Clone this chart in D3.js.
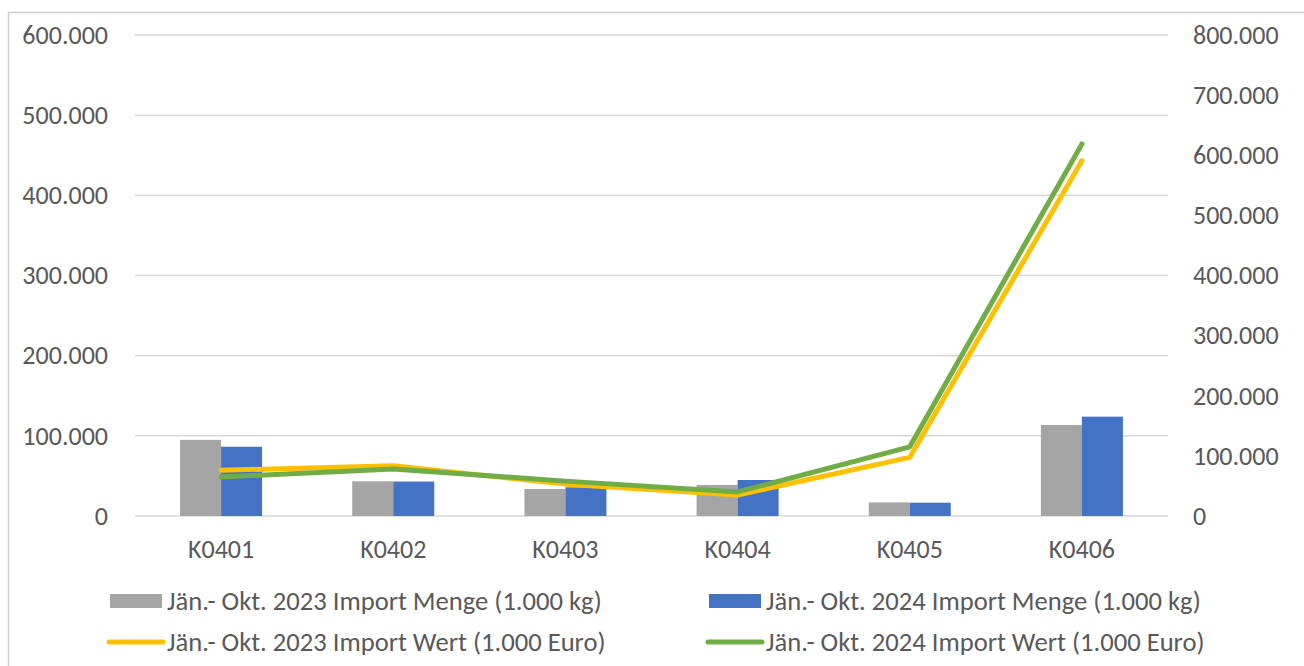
<!DOCTYPE html>
<html><head><meta charset="utf-8">
<script src="https://cdn.jsdelivr.net/npm/d3@7/dist/d3.min.js"></script>
<style>body{margin:0;background:#fff}svg{display:block}text{font-family:Carlito,Calibri,"Liberation Sans",sans-serif}</style>
</head><body><svg id="c" width="1304" height="666"></svg>
<script>
const categories = ["K0401","K0402","K0403","K0404","K0405","K0406"];
const menge2023 = [95000, 43300, 33700, 38700, 17000, 113500];
const menge2024 = [86400, 43000, 35800, 44900, 16600, 123900];
const wert2023 = [76000, 83700, 53000, 35000, 97600, 591000];
const wert2024 = [65000, 78000, 58000, 40000, 115000, 618800];
const leftTicks = [0,100000,200000,300000,400000,500000,600000];
const rightTicks = [0,100000,200000,300000,400000,500000,600000,700000,800000];
const labels = ["Jän.- Okt. 2023 Import Menge (1.000 kg)","Jän.- Okt. 2024 Import Menge (1.000 kg)","Jän.- Okt. 2023 Import Wert (1.000 Euro)","Jän.- Okt. 2024 Import Wert (1.000 Euro)"];
const colors = ["#a5a5a5","#4472c4","#ffc000","#70ad47"];

const svg = d3.select("#c");
const L=135,R=1168,T=35,B=516;
const fmt = v => v===0 ? "0" : d3.format(",")(v).replace(/,/g,".");
const x = d3.scaleBand().domain(categories).range([L,R]).paddingInner(0).paddingOuter(0);
const yL = d3.scaleLinear().domain([0,600000]).range([B,T]);
const yR = d3.scaleLinear().domain([0,800000]).range([B,T]);

svg.append("rect").attr("x",8.5).attr("y",12.5).attr("width",1310).attr("height",670).attr("fill","none").attr("stroke","#d0d0d0").attr("stroke-width",1.5);

// gridlines
svg.append("g").selectAll("line").data(leftTicks).join("line")
  .attr("x1",L).attr("x2",R).attr("y1",d=>yL(d)).attr("y2",d=>yL(d))
  .attr("stroke","#d9d9d9").attr("stroke-width",1.5);

const tickStyle = g => { g.select(".domain").remove(); g.selectAll(".tick line").remove();
  g.selectAll("text").attr("fill","#595959").style("font-size","26px"); };
svg.append("g").attr("transform",`translate(${L-19},0)`)
  .call(d3.axisLeft(yL).tickValues(leftTicks).tickFormat(fmt).tickSize(0).tickPadding(8)).call(tickStyle);
svg.append("g").attr("transform",`translate(${R+17},0)`)
  .call(d3.axisRight(yR).tickValues(rightTicks).tickFormat(fmt).tickSize(0).tickPadding(8)).call(tickStyle);
svg.append("g").attr("transform",`translate(0,${B+22})`)
  .call(d3.axisBottom(x).tickSize(0).tickPadding(2)).call(tickStyle);

const bw = 41;
const sub = d3.scaleBand().domain([0,1]).range([-bw, bw]);
[menge2023, menge2024].forEach((arr,i)=>{
  svg.append("g").selectAll("rect").data(arr).join("rect")
    .attr("x",(d,j)=>x(categories[j])+x.bandwidth()/2+sub(i))
    .attr("width",sub.bandwidth())
    .attr("y",d=>yL(d)).attr("height",d=>B-yL(d))
    .attr("fill",colors[i]);
});
[wert2023, wert2024].forEach((arr,i)=>{
  const line = d3.line().x((d,j)=>x(categories[j])+x.bandwidth()/2).y(d=>yR(d));
  svg.append("path").attr("d",line(arr)).attr("fill","none").attr("stroke",colors[i+2])
    .attr("stroke-width",5).attr("stroke-linecap","round").attr("stroke-linejoin","round");
});

// legend
const leg = [
  {x:110,y:601,t:"rect",i:0},{x:709,y:601,t:"rect",i:1},
  {x:110,y:642,t:"line",i:2},{x:709,y:642,t:"line",i:3}];
leg.forEach(o=>{
  const g = svg.append("g");
  if(o.t==="rect") g.append("rect").attr("x",o.x).attr("y",o.y-7).attr("width",52).attr("height",14).attr("fill",colors[o.i]);
  else g.append("line").attr("x1",o.x-1).attr("x2",o.x+53).attr("y1",o.y).attr("y2",o.y).attr("stroke",colors[o.i]).attr("stroke-width",5).attr("stroke-linecap","round");
  g.append("text").attr("x",o.x+57).attr("y",o.y).attr("dy","0.35em").attr("fill","#595959").style("font-size","26.6px").text(labels[o.i]);
});
</script></body></html>
